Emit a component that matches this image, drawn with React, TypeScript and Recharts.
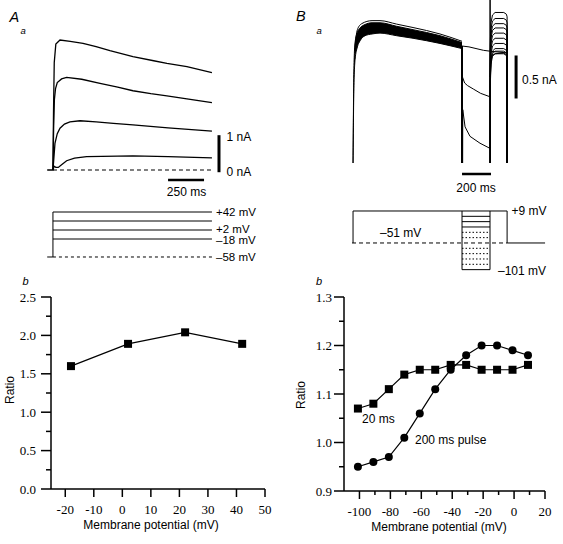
import { ComposedChart, LineChart, Line, Area, XAxis, YAxis, ReferenceLine } from 'recharts'

type P = [number, number]

const SANS = '"Liberation Sans", Arial, sans-serif'
const SERIF = '"Liberation Serif", "Times New Roman", serif'

// ---------- A a : currents (t in ms, I in nA)
const traceA42: P[] = [[-40, 0], [0, 0], [4, 1.6], [9, 2.9], [20, 3.4], [49, 3.51], [120, 3.47], [209, 3.42], [300, 3.33], [396, 3.22], [556, 3.06], [700, 2.95], [792, 2.88], [931, 2.79], [1105, 2.63]]
const traceA22: P[] = [[0, 0], [5, 1.2], [10, 1.9], [18, 2.2], [30, 2.36], [60, 2.46], [95, 2.5], [200, 2.45], [327, 2.34], [450, 2.24], [556, 2.14], [680, 2.06], [792, 2.0], [931, 1.92], [1105, 1.82]]
const traceA2: P[] = [[0, 0], [5, 0.25], [14, 0.72], [30, 0.98], [49, 1.13], [80, 1.24], [118, 1.3], [188, 1.33], [300, 1.3], [420, 1.26], [556, 1.22], [800, 1.14], [1105, 1.05]]
const traceAm18: P[] = [[0, 0], [8, 0.1], [20, 0.07], [37, 0.07], [60, 0.14], [95, 0.25], [150, 0.32], [234, 0.36], [556, 0.38], [800, 0.36], [1105, 0.33]]
const zeroA: P[] = [[0, 0], [1112, 0]]

// ---------- A a : protocol (mV)
const holdA = -58
const stepLevelsA = [42, 22, 2, -18]
const stepEndA = 1105

// ---------- B a : currents
const bandB: [number, number, number][] = [
  [0, 0, 0], [6, 0.9, 1.1], [14, 1.2, 1.4], [30, 1.35, 1.52], [48, 1.42, 1.57], [83, 1.48, 1.61],
  [131, 1.5, 1.63], [186, 1.51, 1.63], [300, 1.48, 1.59], [414, 1.45, 1.55], [600, 1.39, 1.48], [752, 1.33, 1.4],
]
const bandTopB: P[] = [[10, 1.3], [30, 1.55], [60, 1.62], [131, 1.655], [186, 1.655], [300, 1.615], [414, 1.575], [600, 1.5], [752, 1.415]]
const sweepP9: P[] = [[752, 1.36], [800, 1.35], [900, 1.31], [945, 1.3], [1000, 1.29], [1063, 1.28], [1064, -3]]
const sweepM1: P[] = [[752, 1.36], [753, -3], [755, 1.0], [770, 0.93], [790, 0.9], [830, 0.86], [880, 0.81], [945, 0.77], [945.5, 3], [946.5, 1.0], [951, 1.2], [960, 1.25], [980, 1.27], [1040, 1.27], [1058, 1.25], [1063, 1.22], [1064, -3]]
const sweepM11: P[] = [[752, 1.36], [753, -3], [757, 0.62], [773, 0.42], [807, 0.31], [876, 0.23], [945, 0.17], [947, 0.9], [952, 1.15], [962, 1.24], [980, 1.27], [1040, 1.28], [1058, 1.26], [1063, 1.23], [1064, -3]]
const sweepM21: P[] = [[752, 1.36], [753, -3], [945, -3], [947, 0.95], [952, 1.18], [962, 1.27], [980, 1.3], [1040, 1.3], [1058, 1.28], [1063, 1.25], [1064, -3]]
const sweepM31: P[] = [[752, 1.36], [753, -3], [945, -3], [947, 0.98], [952, 1.21], [962, 1.3], [980, 1.33], [1040, 1.33], [1058, 1.31], [1063, 1.28], [1064, -3]]
const sweepM41: P[] = [[752, 1.36], [753, -3], [945, -3], [947, 1.04], [952, 1.27], [962, 1.36], [980, 1.39], [1040, 1.39], [1058, 1.37], [1063, 1.34], [1064, -3]]
const sweepM51: P[] = [[752, 1.36], [753, -3], [945, -3], [947, 1.1], [952, 1.33], [962, 1.42], [980, 1.45], [1040, 1.45], [1058, 1.43], [1063, 1.4], [1064, -3]]
const sweepM61: P[] = [[752, 1.36], [753, -3], [945, -3], [947, 1.16], [952, 1.39], [962, 1.48], [980, 1.51], [1040, 1.51], [1058, 1.49], [1063, 1.46], [1064, -3]]
const sweepM71: P[] = [[752, 1.36], [753, -3], [945, -3], [947, 1.22], [952, 1.45], [962, 1.54], [980, 1.57], [1040, 1.57], [1058, 1.55], [1063, 1.52], [1064, -3]]
const sweepM81: P[] = [[752, 1.36], [753, -3], [945, -3], [947, 1.27], [952, 1.5], [962, 1.59], [980, 1.62], [1040, 1.62], [1058, 1.6], [1063, 1.57], [1064, -3]]
const sweepM91: P[] = [[752, 1.36], [753, -3], [945, -3], [947, 1.33], [952, 1.56], [962, 1.65], [980, 1.68], [1040, 1.68], [1058, 1.66], [1063, 1.63], [1064, -3]]
const sweepM101: P[] = [[752, 1.36], [753, -3], [945, -3], [947, 1.4], [952, 1.63], [962, 1.72], [980, 1.75], [1040, 1.75], [1058, 1.73], [1063, 1.7], [1064, -3]]
const sweepsB = [sweepP9, sweepM1, sweepM11, sweepM21, sweepM31, sweepM41, sweepM51, sweepM61, sweepM71, sweepM81, sweepM91, sweepM101]

// ---------- B a : protocol (mV)
const holdB = -51
const stepB = 9
const boxStartB = 752
const boxEndB = 945
const stepEndB = 1063
const solidLevelsB = [-1, -11, -21, -101]
const dottedLevelsB = [-31, -41, -61, -71, -81, -91]

// ---------- A b
const vA = [-18, 2, 22, 42]
const ratioA = [1.6, 1.89, 2.04, 1.89]
const xTicksA = [-20, -10, 0, 10, 20, 30, 40, 50]
const yTicksA = [0, 0.25, 0.5, 0.75, 1, 1.25, 1.5, 1.75, 2, 2.25, 2.5]

// ---------- B b
const vB = [-101, -91, -81, -71, -61, -51, -41, -31, -21, -11, -1, 9]
const ratio20ms = [1.07, 1.08, 1.11, 1.14, 1.15, 1.15, 1.16, 1.16, 1.15, 1.15, 1.15, 1.16]
const ratio200ms = [0.95, 0.96, 0.97, 1.01, 1.06, 1.11, 1.15, 1.18, 1.2, 1.2, 1.19, 1.18]
const xTicksB = [-100, -90, -80, -70, -60, -50, -40, -30, -20, -10, 0, 10, 20]
const yTicksB = [0.9, 0.95, 1.0, 1.05, 1.1, 1.15, 1.2, 1.25, 1.3]

const toPts = (a: P[]) => a.map(([t, v]) => ({ t, v }))
const seg = (t0: number, t1: number, v: number) => [{ t: t0, v }, { t: t1, v }]
const noMargin = { top: 0, right: 0, bottom: 0, left: 0 }

const SquareDot = (props: any) => {
  const { cx, cy, index } = props
  return <rect key={index} x={cx - 4} y={cy - 4} width={8} height={8} fill="#000" />
}

const isMult = (v: number, step: number) => Math.abs(v / step - Math.round(v / step)) < 1e-6

const makeXTick = (majorStep: number) => (props: any) => {
  const { x, y, payload } = props
  const major = isMult(payload.value, majorStep)
  return (
    <g>
      <line x1={x} y1={y} x2={x} y2={y + (major ? 8 : 4)} stroke="#000" strokeWidth={1.5} />
      {major && (
        <text x={x} y={y + 24.5} textAnchor="middle" fontFamily={SERIF} fontSize={13} fill="#000">
          {payload.value}
        </text>
      )}
    </g>
  )
}

const makeYTick = (majorStep: number, gap: number) => (props: any) => {
  const { x, y, payload } = props
  const major = isMult(payload.value, majorStep)
  return (
    <g>
      <line x1={x - (major ? 10 : 5)} y1={y} x2={x} y2={y} stroke="#000" strokeWidth={1.5} />
      {major && (
        <text x={x - gap} y={y + 4.5} textAnchor="end" fontFamily={SERIF} fontSize={13} fill="#000">
          {payload.value.toFixed(1)}
        </text>
      )}
    </g>
  )
}

function TracesA() {
  const traces = [traceA42, traceA22, traceA2, traceAm18]
  return (
    <LineChart width={200} height={170} margin={noMargin}>
      <XAxis dataKey="t" type="number" domain={[-90, 1300]} hide allowDataOverflow />
      <YAxis type="number" domain={[-0.81, 3.78]} hide allowDataOverflow />
      <Line data={toPts(zeroA)} dataKey="v" stroke="#000" strokeWidth={1.2} strokeDasharray="4 3" dot={false} isAnimationActive={false} />
      {traces.map((tr, k) => (
        <Line key={k} data={toPts(tr)} dataKey="v" stroke="#000" strokeWidth={1.3} dot={false} isAnimationActive={false} />
      ))}
      <ReferenceLine segment={[{ x: 1154, y: -0.06 }, { x: 1154, y: 0.94 }]} stroke="#000" strokeWidth={3} />
      <ReferenceLine segment={[{ x: 800, y: -0.27 }, { x: 1050, y: -0.27 }]} stroke="#000" strokeWidth={2.5} />
    </LineChart>
  )
}

function ProtocolA() {
  return (
    <LineChart width={200} height={65} margin={noMargin}>
      <XAxis dataKey="t" type="number" domain={[-90, 1300]} hide allowDataOverflow />
      <YAxis type="number" domain={[-75.8, 68.7]} hide allowDataOverflow />
      <Line data={seg(-40, 0, holdA)} dataKey="v" stroke="#000" strokeWidth={1} dot={false} isAnimationActive={false} />
      <Line data={seg(0, 1112, holdA)} dataKey="v" stroke="#000" strokeWidth={1} strokeDasharray="3 3" dot={false} isAnimationActive={false} />
      <Line data={[{ t: 0, v: holdA }, { t: 0, v: stepLevelsA[0] }]} dataKey="v" stroke="#000" strokeWidth={1} dot={false} isAnimationActive={false} />
      {stepLevelsA.map((lv) => (
        <Line key={lv} data={seg(0, stepEndA, lv)} dataKey="v" stroke="#000" strokeWidth={1} dot={false} isAnimationActive={false} />
      ))}
    </LineChart>
  )
}

function TracesB() {
  const band = bandB.map(([t, lo, hi]) => ({ t, band: [lo, hi] }))
  return (
    <ComposedChart width={220} height={163} margin={noMargin} data={band}>
      <XAxis dataKey="t" type="number" domain={[-90, 1428]} hide allowDataOverflow />
      <YAxis type="number" domain={[0, 1.895]} hide allowDataOverflow />
      <Area dataKey="band" type="monotone" stroke="#000" strokeWidth={1} fill="#000" fillOpacity={1} isAnimationActive={false} />
      <Line data={toPts(bandTopB)} dataKey="v" type="monotone" stroke="#000" strokeWidth={1} dot={false} isAnimationActive={false} />
      {sweepsB.map((sw, k) => (
        <Line key={k} data={toPts(sw)} dataKey="v" stroke="#000" strokeWidth={1} dot={false} isAnimationActive={false} />
      ))}
      <ReferenceLine segment={[{ x: 1125, y: 0.75 }, { x: 1125, y: 1.25 }]} stroke="#000" strokeWidth={3} />
    </ComposedChart>
  )
}

function TimeBarB() {
  return (
    <LineChart width={220} height={20} margin={noMargin}>
      <XAxis dataKey="t" type="number" domain={[-90, 1428]} hide allowDataOverflow />
      <YAxis type="number" domain={[0, 1]} hide allowDataOverflow />
      <ReferenceLine segment={[{ x: 752, y: 0.55 }, { x: 952, y: 0.55 }]} stroke="#000" strokeWidth={2.5} />
    </LineChart>
  )
}

function ProtocolB() {
  return (
    <LineChart width={220} height={85} margin={noMargin}>
      <XAxis dataKey="t" type="number" domain={[-90, 1428]} hide allowDataOverflow />
      <YAxis type="number" domain={[-129.8, 29.6]} hide allowDataOverflow />
      <Line data={seg(-7, stepEndB, holdB)} dataKey="v" stroke="#000" strokeWidth={1} strokeDasharray="4 3" dot={false} isAnimationActive={false} />
      <Line
        data={[{ t: 0, v: holdB }, { t: 0, v: stepB }, { t: stepEndB, v: stepB }, { t: stepEndB, v: holdB }, { t: 1325, v: holdB }]}
        dataKey="v" stroke="#000" strokeWidth={1} dot={false} isAnimationActive={false}
      />
      {solidLevelsB.map((lv) => (
        <Line key={lv} data={seg(boxStartB, boxEndB, lv)} dataKey="v" stroke="#000" strokeWidth={1} dot={false} isAnimationActive={false} />
      ))}
      {dottedLevelsB.map((lv) => (
        <Line key={lv} data={seg(boxStartB, boxEndB, lv)} dataKey="v" stroke="#000" strokeWidth={1} strokeDasharray="1.5 2" dot={false} isAnimationActive={false} />
      ))}
      <Line data={[{ t: boxStartB, v: stepB }, { t: boxStartB, v: -101 }]} dataKey="v" stroke="#000" strokeWidth={1} dot={false} isAnimationActive={false} />
      <Line data={[{ t: boxEndB, v: stepB }, { t: boxEndB, v: -101 }]} dataKey="v" stroke="#000" strokeWidth={1} dot={false} isAnimationActive={false} />
    </LineChart>
  )
}

function RatioA() {
  const data = vA.map((v, i) => ({ v, r: ratioA[i] }))
  return (
    <LineChart width={280} height={264} data={data} margin={{ top: 17, right: 15, bottom: 25, left: 11 }}>
      <XAxis
        dataKey="v" type="number" domain={[-25, 50]} ticks={xTicksA} interval={0} height={30}
        tickSize={0} tickMargin={0} tickLine={false} tick={makeXTick(10)}
        axisLine={{ stroke: '#000', strokeWidth: 1.5 }}
      />
      <YAxis
        type="number" domain={[0, 2.5]} ticks={yTicksA} interval={0} width={40}
        tickSize={0} tickMargin={0} tickLine={false} tick={makeYTick(0.5, 15)}
        axisLine={{ stroke: '#000', strokeWidth: 1.5 }}
      />
      <Line dataKey="r" stroke="#000" strokeWidth={1.2} dot={SquareDot} isAnimationActive={false} />
    </LineChart>
  )
}

function RatioB() {
  const data = vB.map((v, i) => ({ v, r20: ratio20ms[i], r200: ratio200ms[i] }))
  return (
    <LineChart width={283} height={264} data={data} margin={{ top: 17, right: 18, bottom: 23, left: 24 }}>
      <XAxis
        dataKey="v" type="number" domain={[-110, 20]} ticks={xTicksB} interval={0} height={30}
        tickSize={0} tickMargin={0} tickLine={false} tick={makeXTick(20)}
        axisLine={{ stroke: '#000', strokeWidth: 1.5 }}
      />
      <YAxis
        type="number" domain={[0.9, 1.3]} ticks={yTicksB} interval={0} width={40}
        tickSize={0} tickMargin={0} tickLine={false} tick={makeYTick(0.1, 12)}
        axisLine={{ stroke: '#000', strokeWidth: 1.5 }}
      />
      <Line dataKey="r20" stroke="#000" strokeWidth={1.2} dot={SquareDot} isAnimationActive={false} />
      <Line dataKey="r200" stroke="#000" strokeWidth={1.2} dot={{ r: 4, fill: '#000', stroke: '#000', strokeWidth: 0 }} isAnimationActive={false} />
    </LineChart>
  )
}

const abs = (left: number, top: number) => ({ position: 'absolute' as const, left, top })

export default function App() {
  const txt = { fontFamily: SANS, fontSize: 12, fill: '#000' }
  const small = { fontFamily: SANS, fontSize: 11.5, fill: '#000' }
  const ital = { fontFamily: SANS, fontStyle: 'italic', fill: '#000' }
  return (
    <div style={{ position: 'absolute', left: 0, top: 0, width: 563, height: 544, background: '#fff' }}>
      <div style={abs(40, 30)}><TracesA /></div>
      <div style={abs(40, 200)}><ProtocolA /></div>
      <div style={abs(340, 0)}><TracesB /></div>
      <div style={abs(340, 165)}><TimeBarB /></div>
      <div style={abs(340, 200)}><ProtocolB /></div>
      <div style={abs(0, 280)}><RatioA /></div>
      <div style={abs(280, 280)}><RatioB /></div>
      <svg width={563} height={544} style={{ position: 'absolute', left: 0, top: 0, pointerEvents: 'none' }}>
        <text x={9.5} y={22} {...ital} fontSize={14.5}>A</text>
        <text x={20.5} y={34} {...ital} fontSize={9.5}>a</text>
        <text x={296} y={20.5} {...ital} fontSize={14.5}>B</text>
        <text x={316.5} y={34} {...ital} fontSize={9.5}>a</text>
        <text x={22.5} y={284.5} {...ital} fontSize={11}>b</text>
        <text x={316} y={284.5} {...ital} fontSize={11}>b</text>

        <text x={226.5} y={140.5} {...txt}>1 nA</text>
        <text x={226.5} y={176} {...txt}>0 nA</text>
        <text x={186.5} y={196} {...txt} textAnchor="middle">250 ms</text>
        <text x={216} y={216} {...small}>+42 mV</text>
        <text x={216} y={233} {...small}>+2 mV</text>
        <text x={216} y={244} {...small}>–18 mV</text>
        <text x={216} y={261} {...small}>–58 mV</text>

        <text x={522} y={84} {...txt}>0.5 nA</text>
        <text x={476} y={192} {...txt} textAnchor="middle">200 ms</text>
        <text x={511.5} y={215} {...txt}>+9 mV</text>
        <text x={380} y={237} {...txt}>–51 mV</text>
        <text x={498} y={275} {...txt}>–101 mV</text>

        <text x={14} y={390} {...txt} textAnchor="middle" transform="rotate(-90 14 390)">Ratio</text>
        <text x={151} y={529} {...txt} textAnchor="middle">Membrane potential (mV)</text>
        <text x={304.5} y={395} {...txt} textAnchor="middle" transform="rotate(-90 304.5 395)">Ratio</text>
        <text x={439} y={530.5} {...txt} textAnchor="middle">Membrane potential (mV)</text>
        <text x={362} y={423} {...txt}>20 ms</text>
        <text x={415} y={443.5} {...txt}>200 ms pulse</text>
      </svg>
    </div>
  )
}
